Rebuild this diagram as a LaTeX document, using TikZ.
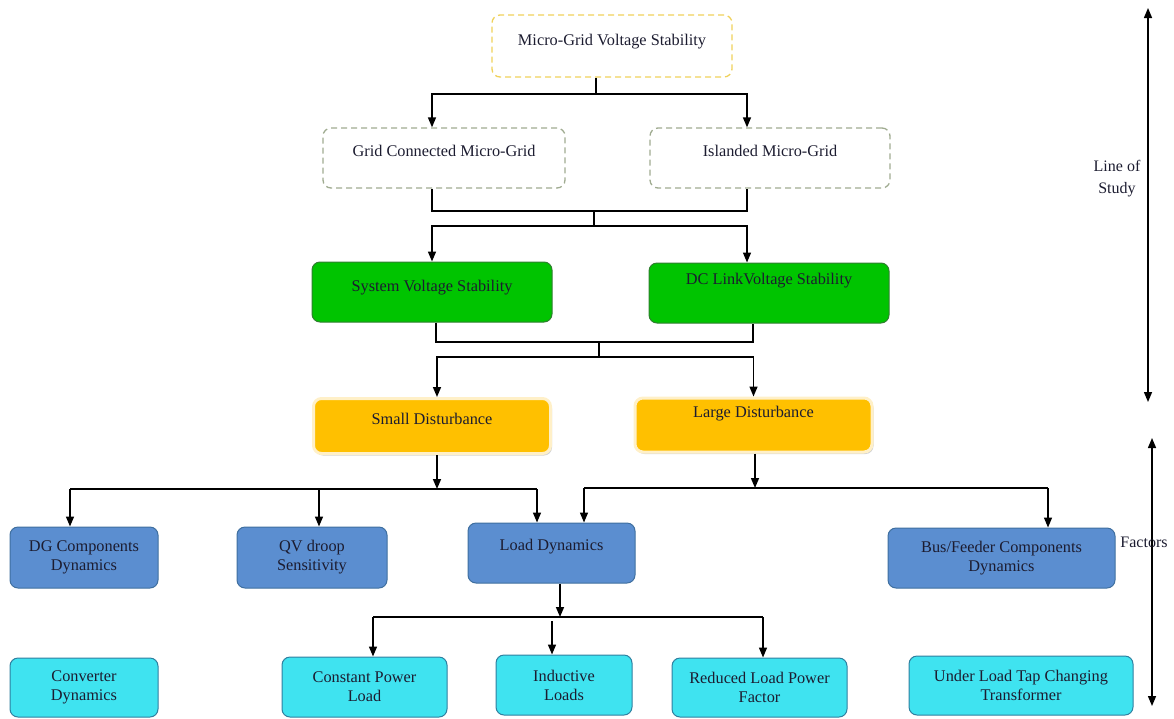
\documentclass[tikz,border=0pt]{standalone}
\usepackage{fontspec}
\setmainfont{Liberation Serif}
\usetikzlibrary{arrows.meta, shadows}
\definecolor{dashyellow}{HTML}{EFD15A}
\definecolor{dashgreen}{HTML}{9FAB90}
\definecolor{boxgreen}{HTML}{00C400}
\definecolor{greenedge}{HTML}{2F7F2F}
\definecolor{boxorange}{HTML}{FFC000}
\definecolor{orangeedge}{HTML}{FFF0C8}
\definecolor{boxblue}{HTML}{5B8ED0}
\definecolor{blueedge}{HTML}{3F6F9F}
\definecolor{boxcyan}{HTML}{3FE3F0}
\definecolor{cyanedge}{HTML}{2F7F9F}
\definecolor{textdark}{HTML}{1C1C30}

\begin{document}
\begin{tikzpicture}[x=1pt, y=-1pt,
    box/.style={rectangle, rounded corners=8pt, align=center, inner sep=2pt,
        font=\fontsize{16.3}{19}\selectfont, text=textdark},
    raise/.style={text depth=#1},
    dashbox/.style={box, draw=#1, dash pattern=on 6pt off 4pt, line width=1.3pt},
    greenbox/.style={box, fill=boxgreen, draw=greenedge, line width=1pt},
    orangebox/.style={box, fill=boxorange, draw=orangeedge, line width=3pt,
        drop shadow={opacity=0.35, shadow xshift=1.5pt, shadow yshift=-2pt}},
    bluebox/.style={box, fill=boxblue, draw=blueedge, line width=1pt},
    cyanbox/.style={box, fill=boxcyan, draw=cyanedge, line width=1pt},
    link/.style={line width=1.5pt},
    arr/.style={link, -{Triangle[length=10pt, width=8pt]}},
    both/.style={link, {Triangle[length=10pt, width=8pt]}-{Triangle[length=10pt, width=8pt]}},
    side/.style={align=center, font=\fontsize{16}{22}\selectfont, text=textdark}
]
    \useasboundingbox (0,0) rectangle (1174,718);

    % Line of study boxes
    \node[dashbox=dashyellow, minimum width=240pt, minimum height=62pt, raise=11.5pt] (mgvs) at (612,46) {Micro-Grid Voltage Stability};
    \node[dashbox=dashgreen, minimum width=242pt, minimum height=60pt, raise=13.5pt] (gcm) at (444,158) {Grid Connected Micro-Grid};
    \node[dashbox=dashgreen, minimum width=240pt, minimum height=60pt, raise=13.5pt] (iml) at (770,158) {Islanded Micro-Grid};
    \node[greenbox, minimum width=240pt, minimum height=60pt, raise=11.5pt] (svs) at (432,292) {System Voltage Stability};
    \node[greenbox, minimum width=240pt, minimum height=60pt, raise=27.5pt] (dcl) at (769,293) {DC LinkVoltage Stability};
    \node[orangebox, minimum width=237pt, minimum height=55pt, raise=14.5pt] (sd) at (432,426) {Small Disturbance};
    \node[orangebox, minimum width=237pt, minimum height=54pt, raise=25.5pt] (ld) at (753.5,425) {Large Disturbance};

    % Factors
    \node[bluebox, minimum width=148pt, minimum height=61pt] (dg) at (84,557.5) {DG Components\\Dynamics};
    \node[bluebox, minimum width=150pt, minimum height=61pt] (qv) at (312,557.5) {QV droop\\Sensitivity};
    \node[bluebox, minimum width=167pt, minimum height=60pt, raise=15.5pt] (lod) at (551.5,553) {Load Dynamics};
    \node[bluebox, minimum width=227pt, minimum height=60pt] (bus) at (1001.5,558) {Bus/Feeder Components\\Dynamics};
    \node[cyanbox, minimum width=148pt, minimum height=59pt] (cvd) at (84,687.5) {Converter\\Dynamics};
    \node[cyanbox, minimum width=165pt, minimum height=60pt] (cpl) at (364.5,687) {Constant Power\\Load};
    \node[cyanbox, minimum width=136pt, minimum height=60pt] (ind) at (564,685) {Inductive\\Loads};
    \node[cyanbox, minimum width=175pt, minimum height=59pt] (rlp) at (759.5,687.5) {Reduced Load Power\\Factor};
    \node[cyanbox, minimum width=224pt, minimum height=59pt] (ult) at (1021,685.5) {Under Load Tap Changing\\Transformer};

    % Junction points
    \coordinate (b1) at (596,94);
    \coordinate (b2) at (594,211);
    \coordinate (b3) at (594,226);
    \coordinate (b4) at (599,342);
    \coordinate (b5) at (599,357);
    \coordinate (b6) at (437,489);
    \coordinate (b7) at (755,488);
    \coordinate (b8) at (560,617);

    % Top split
    \draw[link] (mgvs.south -| b1) -- (b1);
    \draw[arr] (b1) -| ([xshift=-12]gcm.north);
    \draw[arr] (b1) -| ([xshift=-23]iml.north);

    % Merge and split to the stability types
    \draw[link] ([xshift=-12]gcm.south) |- ([xshift=-23]iml.south |- b2) -- ([xshift=-23]iml.south);
    \draw[link] (b2) -- (b3);
    \draw[arr] (b3) -| (svs.north);
    \draw[arr] (b3) -| ([xshift=-22]dcl.north);

    % Merge and split to the disturbances
    \draw[link] ([xshift=4]svs.south) |- ([xshift=-16]dcl.south |- b4) -- ([xshift=-16]dcl.south);
    \draw[link] (b4) -- (b5);
    \draw[arr] (b5) -| ([xshift=5]sd.north);
    \draw[arr] (b5) -| (ld.north);

    % Small disturbance factors
    \draw[arr] ([xshift=5]sd.south) -- (b6);
    \draw[link] ([xshift=-14]dg.north |- b6) -- ([xshift=-14.5]lod.north |- b6);
    \foreach \n/\s in {dg/-14, qv/7, lod/-14.5}
        \draw[arr] ([xshift=\s]\n.north |- b6) -- ([xshift=\s]\n.north);

    % Large disturbance factors
    \draw[arr] ([xshift=1.5]ld.south) -- (b7);
    \draw[link] ([xshift=32.5]lod.north |- b7) -- ([xshift=46.5]bus.north |- b7);
    \foreach \n/\s in {lod/32.5, bus/46.5}
        \draw[arr] ([xshift=\s]\n.north |- b7) -- ([xshift=\s]\n.north);

    % Load dynamics split
    \draw[arr] ([xshift=8.5]lod.south) -- (b8);
    \draw[link] ([xshift=8.5]cpl.north |- b8) -- ([xshift=3.5]rlp.north |- b8);
    \foreach \n/\s in {cpl/8.5, rlp/3.5}
        \draw[arr] ([xshift=\s]\n.north |- b8) -- ([xshift=\s]\n.north);
    \draw[arr] ([xshift=-12, yshift=-4]ind.north |- b8) -- ([xshift=-12]ind.north);

    % Side arrows
    \coordinate (los1) at (1148,8);
    \coordinate (los2) at (1148,402);
    \coordinate (fac1) at (1152,438);
    \coordinate (fac2) at (1152,706);
    \draw[both] (los1) -- (los2);
    \draw[both] (fac1) -- (fac2);
    \node[side] (los) at (1117,179) {Line of\\Study};
    \node[side] (fac) at (1144,542) {Factors};
\end{tikzpicture}
\end{document}
